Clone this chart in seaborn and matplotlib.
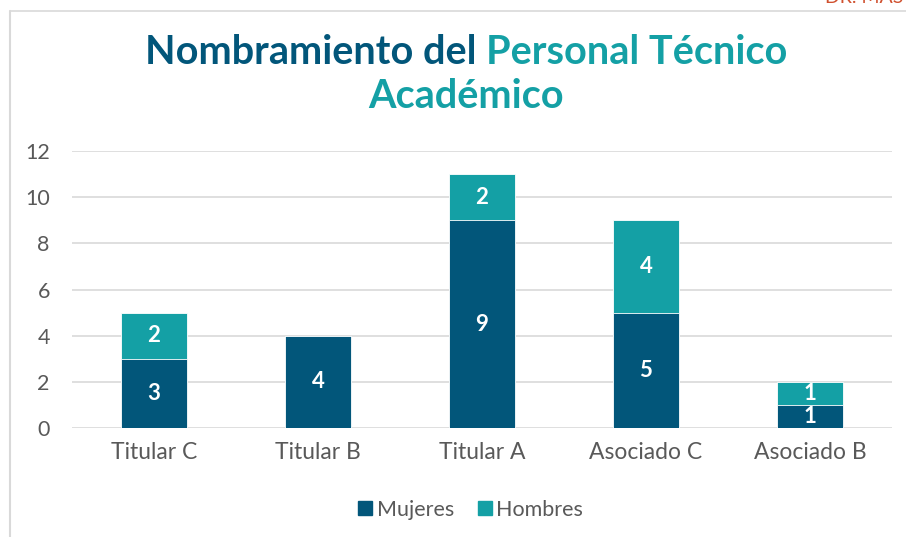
import matplotlib
matplotlib.use("Agg")
import matplotlib.pyplot as plt
import seaborn as sns
import pandas as pd
from matplotlib.lines import Line2D

# Data
categorias = ["Titular C", "Titular B", "Titular A", "Asociado C", "Asociado B"]
mujeres = [3, 4, 9, 5, 1]
hombres = [2, 0, 2, 4, 1]
y_ticks = [0, 2, 4, 6, 8, 10, 12]

AZUL = "#02567A"
TEAL = "#14A0A5"
GRIS = "#595959"

sns.set_theme(style="white")
plt.rcParams["font.family"] = ["Lato", "DejaVu Sans"]

df = pd.DataFrame({"categoria": categorias, "Mujeres": mujeres, "Hombres": hombres})
df["total"] = df["Mujeres"] + df["Hombres"]

fig = plt.figure(figsize=(9.06, 5.37), dpi=100)
ax = fig.add_axes([72 / 906, 1 - 428 / 537, 820 / 906, 277 / 537])

# stacked bars: totals in teal, women on top of them
sns.barplot(data=df, x="categoria", y="total", color=TEAL, width=0.4, saturation=1,
            edgecolor="white", linewidth=0.6, ax=ax, zorder=3)
sns.barplot(data=df, x="categoria", y="Mujeres", color=AZUL, width=0.4, saturation=1,
            edgecolor="white", linewidth=0.6, ax=ax, zorder=3)

for i, (m, h) in enumerate(zip(mujeres, hombres)):
    if m > 0:
        ax.text(i, m / 2, str(m), ha="center", va="center", color="white",
                fontsize=16, fontweight="bold", zorder=5)
    if h > 0:
        ax.text(i, m + h / 2, str(h), ha="center", va="center", color="white",
                fontsize=16, fontweight="bold", zorder=5)

ax.set_ylim(0, 12)
ax.set_xlim(-0.5, 4.5)
ax.set_yticks(y_ticks)
ax.yaxis.grid(True, color="#D9D9D9", linewidth=1.2, zorder=0)
ax.set_axisbelow(True)
for s in ax.spines.values():
    s.set_visible(False)
ax.set_xlabel("")
ax.set_ylabel("")
ax.tick_params(axis="x", labelsize=16.5, labelcolor=GRIS, length=0, pad=10)
ax.tick_params(axis="y", labelsize=15.5, labelcolor=GRIS, length=0, pad=16)
for lbl in ax.get_yticklabels():
    lbl.set_horizontalalignment("right")

# legend
handles = [Line2D([], [], marker="s", linestyle="", markersize=10, color=AZUL),
           Line2D([], [], marker="s", linestyle="", markersize=10, color=TEAL)]
fig.legend(handles, ["Mujeres", "Hombres"], loc="center", bbox_to_anchor=(470 / 906, 1 - 510 / 537),
           ncol=2, frameon=False, fontsize=15.5, handlelength=0.8, handletextpad=0.15,
           columnspacing=1.0, labelcolor=GRIS)

# two-colour title
fig.canvas.draw()
r = fig.canvas.get_renderer()
ts = dict(fontsize=28.5, fontweight="bold")
partes = [("Nombramiento del ", AZUL), ("Personal Técnico", TEAL)]
widths = []
for txt, c in partes:
    t = fig.text(0, 0, txt, **ts)
    widths.append(t.get_window_extent(r).width)
    t.remove()
x0 = 466 - sum(widths) / 2
y1 = 1 - 52 / 537
for (txt, c), w in zip(partes, widths):
    fig.text(x0 / 906, y1, txt, color=c, ha="left", va="center", **ts)
    x0 += w
fig.text(466 / 906, 1 - 97 / 537, "Académico", color=TEAL, ha="center", va="center", **ts)

# slide frame and clipped header
fig.add_artist(Line2D([9.5 / 906, 9.5 / 906], [0, 1 - 11 / 537], color="#D9D9D9", linewidth=1.5))
fig.add_artist(Line2D([9.5 / 906, 1], [1 - 11 / 537, 1 - 11 / 537], color="#D9D9D9", linewidth=1.2))
fig.text(903 / 906, 1 + 2 / 537, "DR. MAS", color="#D0502E", ha="right", va="center", fontsize=14)

fig.savefig("out.png", dpi=100)
